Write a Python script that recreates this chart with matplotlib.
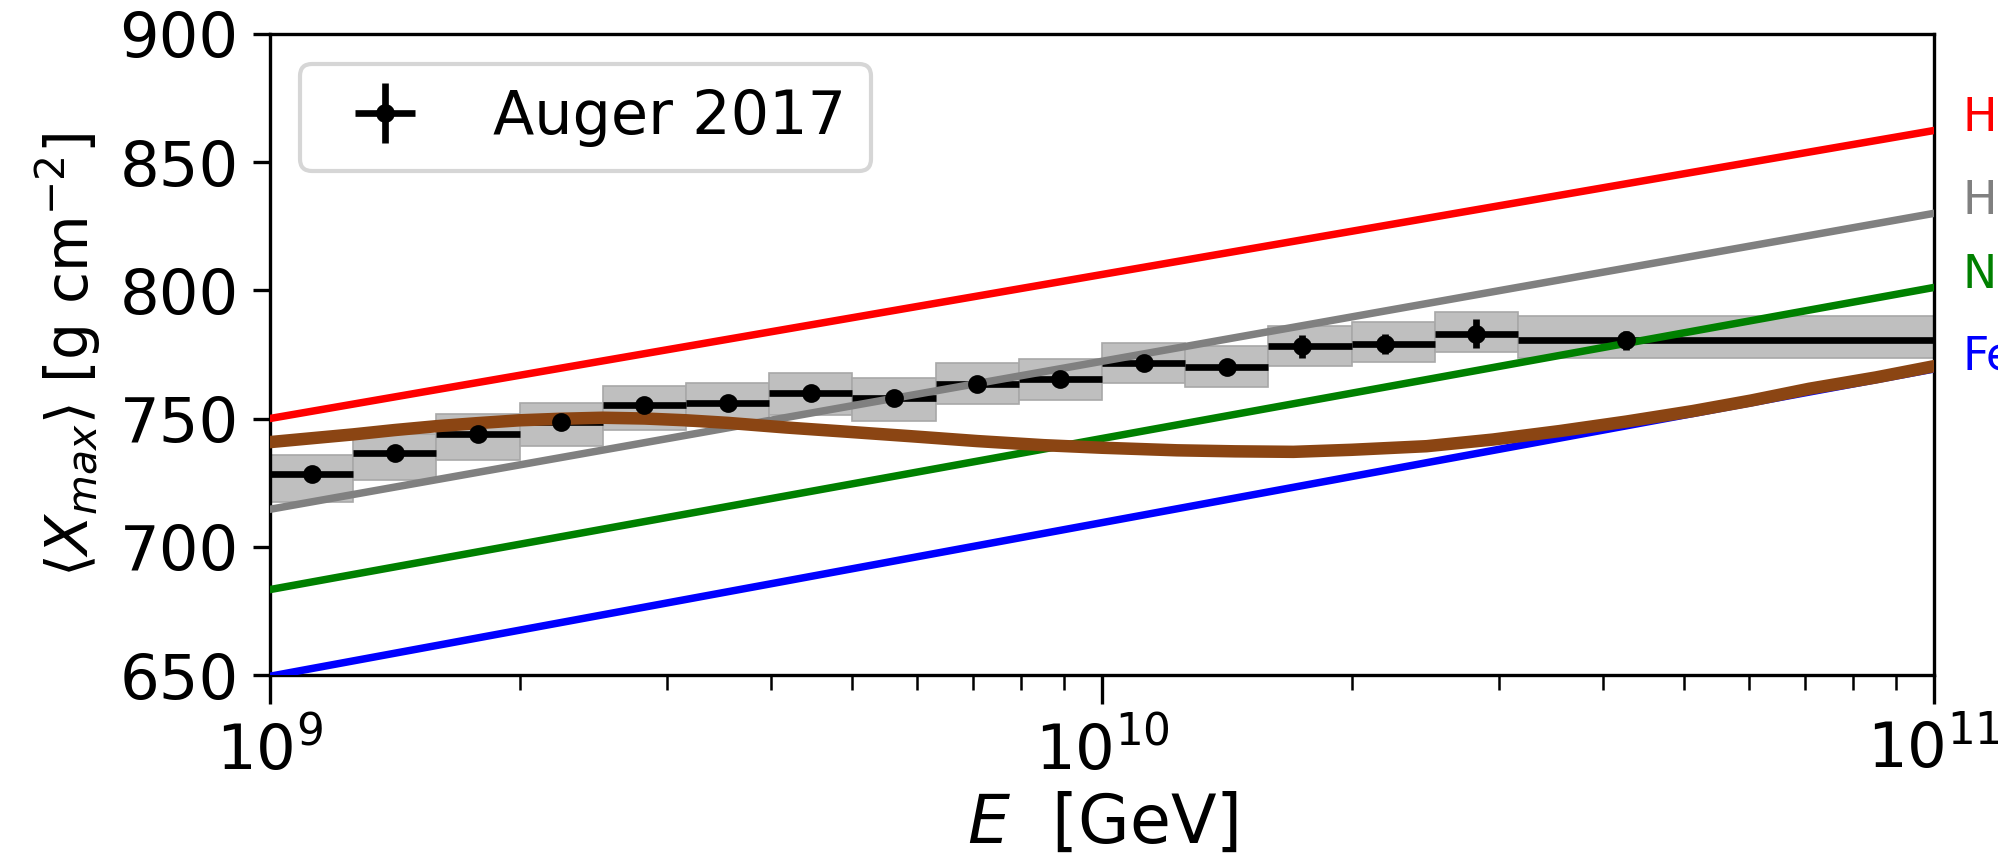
import numpy as np
import matplotlib.pyplot as plt
from matplotlib.transforms import blended_transform_factory

# Auger 2017 <Xmax> points, energy as log10(E / GeV)
lg_energy = [9.05, 9.15, 9.25, 9.35, 9.45, 9.55, 9.65, 9.75,
             9.85, 9.95, 10.05, 10.15, 10.24, 10.34, 10.45, 10.63]
bin_lo = [9.0, 9.1, 9.2, 9.3, 9.4, 9.5, 9.6, 9.7,
          9.8, 9.9, 10.0, 10.1, 10.2, 10.3, 10.4, 10.5]
bin_hi = [9.1, 9.2, 9.3, 9.4, 9.5, 9.6, 9.7, 9.8,
          9.9, 10.0, 10.1, 10.2, 10.3, 10.4, 10.5, 11.0]
xmax_mean = [728.2, 736.6, 744.0, 748.8, 755.3, 756.2, 760.1, 758.1,
             763.5, 765.5, 771.7, 770.2, 778.2, 779.1, 783.0, 780.5]
xmax_stat = [1.2, 1.3, 1.4, 1.5, 1.6, 1.8, 2.0, 2.2,
             2.4, 2.6, 2.8, 3.0, 4.5, 3.9, 5.7, 3.6]
sys_low = [717.6, 726.2, 734.0, 739.1, 745.7, 746.9, 751.2, 749.2,
           755.5, 757.4, 763.7, 762.4, 770.4, 772.0, 776.0, 773.4]
sys_high = [735.6, 743.8, 751.6, 756.2, 762.5, 763.7, 767.6, 765.6,
            771.5, 773.3, 779.5, 778.2, 786.2, 787.8, 791.6, 790.1]

# pure composition lines (ends at 1e9 and 1e11 GeV)
comp_energy = [1e9, 1e11]
comp_names = ["H", "He", "N", "Fe"]
comp_colors = ["red", "gray", "green", "blue"]
comp_xmax = [
    [750.0, 862.3],
    [714.6, 830.0],
    [683.3, 801.1],
    [649.5, 769.3],
]

# model curve
model_lg = [9.0, 9.05, 9.1, 9.15, 9.2, 9.25, 9.3, 9.35, 9.4, 9.45,
            9.5, 9.55, 9.62, 9.7, 9.77, 9.85, 9.93, 10.0, 10.09, 10.16,
            10.23, 10.3, 10.39, 10.47, 10.55, 10.63, 10.71, 10.78,
            10.85, 10.93, 11.0]
model_xmax = [740.8, 742.3, 743.8, 745.5, 747.0, 748.2, 749.3, 749.9,
              750.3, 750.0, 749.3, 748.3, 746.5, 744.7, 743.1, 741.2,
              739.6, 738.6, 737.6, 737.2, 737.0, 737.8, 739.2, 741.8,
              745.1, 748.8, 752.9, 757.0, 761.6, 766.0, 770.4]


def main():
    fig = plt.figure(figsize=(6.66, 2.874), dpi=300)
    ax = fig.add_axes([0.1351, 0.2169, 0.968 - 0.1351, 0.9606 - 0.2169])

    energy = 10 ** np.array(lg_energy)
    lo = 10 ** np.array(bin_lo)
    hi = 10 ** np.array(bin_hi)
    s_lo = np.array(sys_low)
    s_hi = np.array(sys_high)

    ax.bar(lo, s_hi - s_lo, width=hi - lo, bottom=s_lo, align="edge",
           color="#bfbfbf", edgecolor="#a8a8a8", linewidth=0.4, zorder=1)

    eb = ax.errorbar(energy, xmax_mean,
                     xerr=[energy - lo, hi - energy], yerr=xmax_stat,
                     fmt="o", color="black", ms=3.5, elinewidth=1.6,
                     capsize=0, label="Auger 2017", zorder=2)
    eb[0].set_zorder(5)

    trans = blended_transform_factory(ax.transAxes, ax.transData)
    for name, color, vals in zip(comp_names, comp_colors, comp_xmax):
        ax.plot(comp_energy, vals, color=color, lw=1.8, zorder=3)
        ax.text(1.017, vals[-1], name, color=color, fontsize=11,
                va="baseline", ha="left", transform=trans, clip_on=False)

    ax.plot(10 ** np.array(model_lg), model_xmax, color="#8B4513",
            lw=3.0, zorder=4, solid_joinstyle="round")

    ax.set_xscale("log")
    ax.set_xlim(1e9, 1e11)
    ax.set_ylim(650, 900)
    ax.set_yticks([650, 700, 750, 800, 850, 900])

    ax.tick_params(axis="x", which="major", length=7, labelsize=15)
    ax.tick_params(axis="x", which="minor", length=3.5)
    ax.tick_params(axis="y", which="major", length=4, labelsize=15)

    ax.set_xlabel(r"$E$  [GeV]", fontsize=16, labelpad=2)
    ax.set_ylabel(r"$\langle X_{max} \rangle$ [g cm$^{-2}$]", fontsize=14)

    ax.legend(loc="upper left", fontsize=14.5)

    fig.savefig("out.png", dpi=300)
    plt.close(fig)


if __name__ == "__main__":
    main()
